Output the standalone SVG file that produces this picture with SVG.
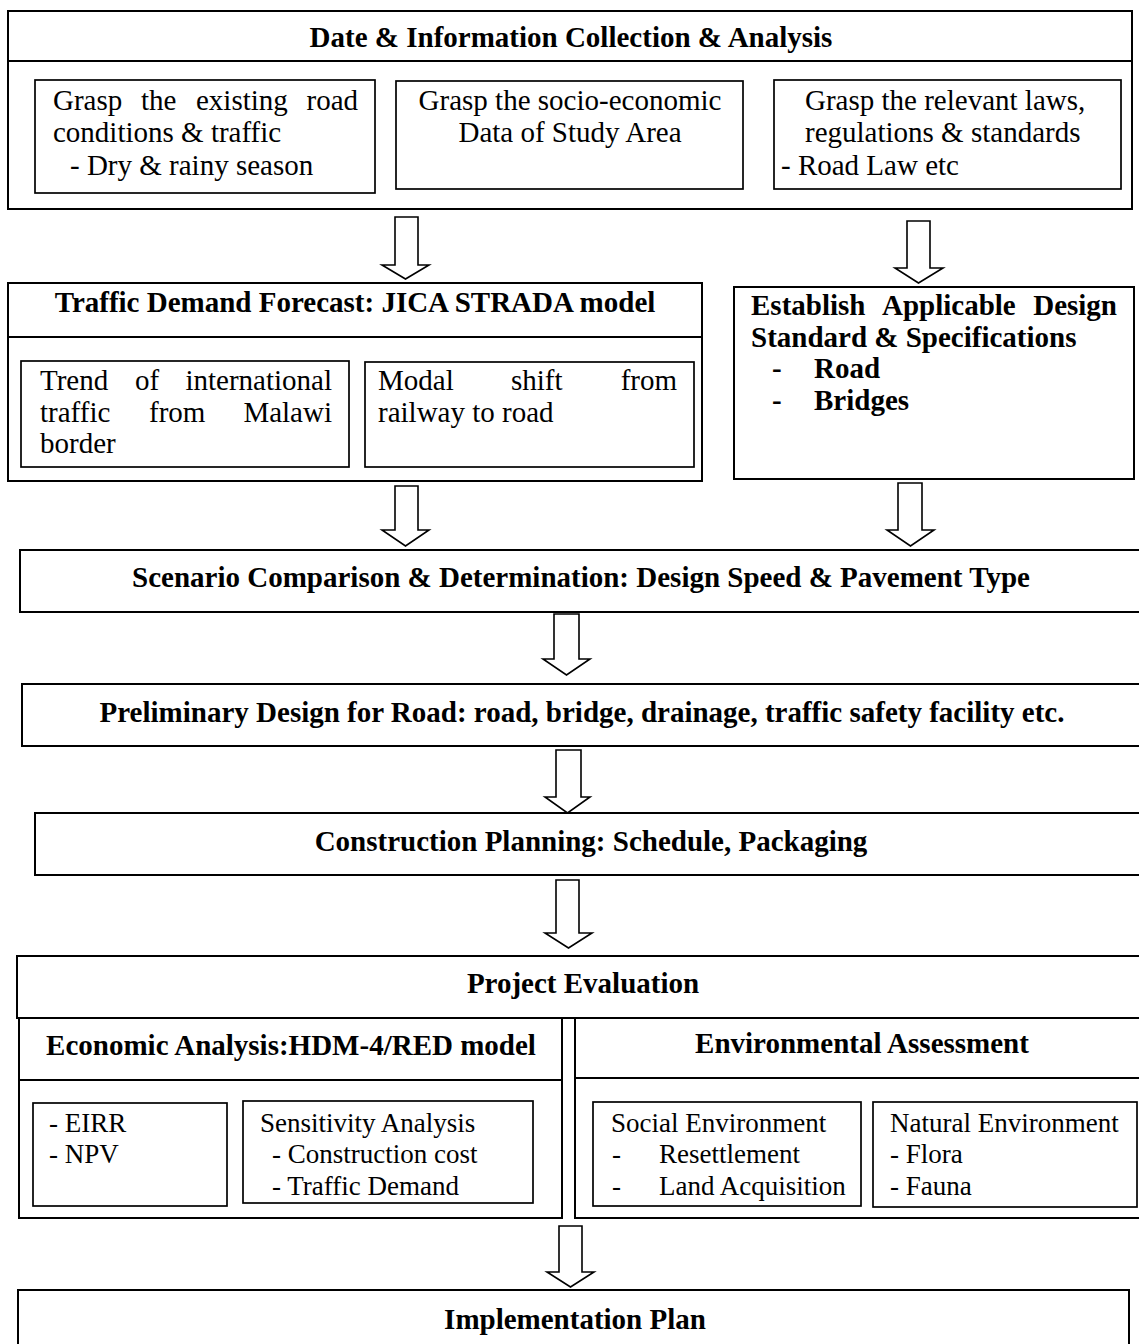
<svg xmlns="http://www.w3.org/2000/svg" width="1139" height="1344" viewBox="0 0 1139 1344">
<style>
.ob{fill:#fff;stroke:#000;stroke-width:2}
.ib{fill:#fff;stroke:#000;stroke-width:1.7}
.ln{stroke:#000;stroke-width:2;fill:none}
.ar{fill:#fff;stroke:#000;stroke-width:1.6;stroke-linejoin:miter}
text{font-family:"Liberation Serif","Times New Roman",serif;font-size:29px;fill:#000}
.s{font-size:27px}
.b{font-weight:bold}
.c{text-anchor:middle}
.e{text-anchor:end}
</style>
<rect width="1139" height="1344" fill="#fff"/>

<g id="data-collection">
<rect class="ob" x="8" y="11" width="1124" height="198"/>
<line class="ln" x1="8" y1="61" x2="1132" y2="61"/>
<text class="b c" x="571" y="47">Date &amp; Information Collection &amp; Analysis</text>
</g>
<g id="road-conditions">
<rect class="ib" x="35" y="80" width="340" height="113"/>
<text x="53" y="110">Grasp</text><text x="141" y="110">the</text><text x="196" y="110">existing</text><text class="e" x="358" y="110">road</text>
<text x="53" y="142">conditions &amp; traffic</text>
<text x="70" y="175">- Dry &amp; rainy season</text>
</g>
<g id="socio-economic">
<rect class="ib" x="396" y="81" width="347" height="108"/>
<text class="c" x="570" y="110">Grasp the socio-economic</text>
<text class="c" x="570" y="142">Data of Study Area</text>
</g>
<g id="laws">
<rect class="ib" x="774" y="80" width="347" height="109"/>
<text x="805" y="110">Grasp the relevant laws,</text>
<text x="805" y="142">regulations &amp; standards</text>
<text x="781" y="175">- Road Law etc</text>
</g>

<g id="traffic-demand">
<rect class="ob" x="8" y="283" width="694" height="198"/>
<line class="ln" x1="8" y1="337" x2="702" y2="337"/>
<text class="b c" x="355" y="312">Traffic Demand Forecast: JICA STRADA model</text>
</g>
<g id="international-traffic">
<rect class="ib" x="21" y="361" width="328" height="106"/>
<text x="40" y="390">Trend</text><text x="135" y="390">of</text><text class="e" x="332" y="390">international</text>
<text x="40" y="422">traffic</text><text x="149" y="422">from</text><text class="e" x="332" y="422">Malawi</text>
<text x="40" y="453">border</text>
</g>
<g id="modal-shift">
<rect class="ib" x="365" y="362" width="329" height="105"/>
<text x="378" y="390">Modal</text><text x="511" y="390">shift</text><text class="e" x="677" y="390">from</text>
<text x="378" y="422">railway to road</text>
</g>

<g id="design-standard">
<rect class="ob" x="734" y="287" width="400" height="192"/>
<text class="b" x="751" y="315">Establish</text><text class="b" x="882" y="315">Applicable</text><text class="b e" x="1117" y="315">Design</text>
<text class="b" x="751" y="347">Standard &amp; Specifications</text>
<text class="b" x="772" y="378">-</text><text class="b" x="814" y="378">Road</text>
<text class="b" x="772" y="410">-</text><text class="b" x="814" y="410">Bridges</text>
</g>

<g id="scenario">
<rect class="ob" x="20" y="550" width="1125" height="62"/>
<text class="b c" x="581" y="587">Scenario Comparison &amp; Determination: Design Speed &amp; Pavement Type</text>
</g>
<g id="preliminary-design">
<rect class="ob" x="22" y="684" width="1123" height="62"/>
<text class="b c" x="582" y="722">Preliminary Design for Road: road, bridge, drainage, traffic safety facility etc.</text>
</g>
<g id="construction-planning">
<rect class="ob" x="35" y="813" width="1110" height="62"/>
<text class="b c" x="591" y="851">Construction Planning: Schedule, Packaging</text>
</g>

<g id="project-evaluation">
<rect class="ob" x="17" y="956" width="1128" height="62"/>
<text class="b c" x="583" y="993">Project Evaluation</text>
</g>
<g id="economic-analysis">
<rect class="ob" x="19" y="1018" width="543" height="200"/>
<line class="ln" x1="19" y1="1080" x2="562" y2="1080"/>
<text class="b c" x="291" y="1055">Economic Analysis:HDM-4/RED model</text>
</g>
<g id="eirr-npv">
<rect class="ib" x="33" y="1103" width="194" height="103"/>
<text class="s" x="49" y="1132">- EIRR</text>
<text class="s" x="49" y="1163">- NPV</text>
</g>
<g id="sensitivity">
<rect class="ib" x="243" y="1101" width="290" height="102"/>
<text class="s" x="260" y="1132">Sensitivity Analysis</text>
<text class="s" x="272" y="1163">- Construction cost</text>
<text class="s" x="272" y="1195">- Traffic Demand</text>
</g>
<g id="environmental-assessment">
<rect class="ob" x="575" y="1018" width="570" height="200"/>
<line class="ln" x1="575" y1="1078" x2="1145" y2="1078"/>
<text class="b c" x="862" y="1053">Environmental Assessment</text>
</g>
<g id="social-environment">
<rect class="ib" x="593" y="1102" width="268" height="104"/>
<text class="s" x="611" y="1132">Social Environment</text>
<text class="s" x="612" y="1163">-</text><text class="s" x="659" y="1163">Resettlement</text>
<text class="s" x="612" y="1195">-</text><text class="s" x="659" y="1195">Land Acquisition</text>
</g>
<g id="natural-environment">
<rect class="ib" x="873" y="1102" width="264" height="105"/>
<text class="s" x="890" y="1132">Natural Environment</text>
<text class="s" x="890" y="1163">- Flora</text>
<text class="s" x="890" y="1195">- Fauna</text>
</g>

<g id="implementation-plan">
<rect class="ob" x="18" y="1290" width="1111" height="60"/>
<text class="b c" x="575" y="1329">Implementation Plan</text>
</g>

<g id="connectors">
<polygon class="ar" points="395,217 418,217 418,265 429,265 405.5,279 382,265 395,265"/>
<polygon class="ar" points="907,221 930,221 930,268 943,268 918.5,283 895,268 907,268"/>
<polygon class="ar" points="395,486 418,486 418,530 429,530 405.5,546 382,530 395,530"/>
<polygon class="ar" points="898,483 922,483 922,530 934,530 910.5,546 887,530 898,530"/>
<polygon class="ar" points="554,614 579,614 579,659 590,659 566.5,675 543,659 554,659"/>
<polygon class="ar" points="556,750 581,750 581,797 590,797 567.5,813 545,797 556,797"/>
<polygon class="ar" points="556,880 579,880 579,933 592,933 568.5,948 545,933 556,933"/>
<polygon class="ar" points="559,1226 582,1226 582,1272 594,1272 570.5,1287 547,1272 559,1272"/>
</g>
</svg>
